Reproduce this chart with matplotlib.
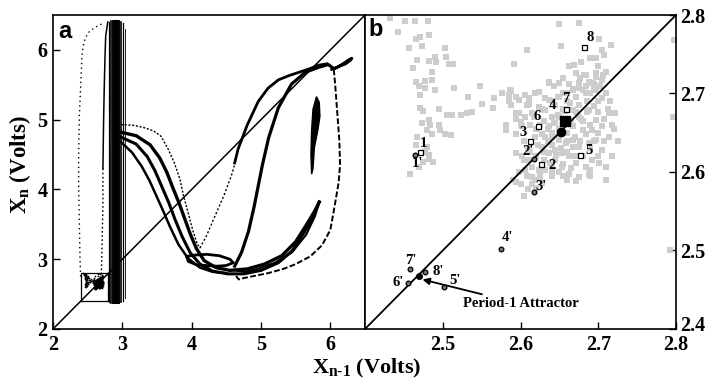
import matplotlib
matplotlib.use("Agg")
import matplotlib.pyplot as plt
from matplotlib.transforms import ScaledTranslation

plt.rcParams['font.family'] = ['Liberation Serif', 'DejaVu Serif']
plt.rcParams['font.weight'] = 'bold'
plt.rcParams['mathtext.fontset'] = 'custom'
plt.rcParams['mathtext.rm'] = 'Liberation Serif:bold'
plt.rcParams['mathtext.bf'] = 'Liberation Serif:bold'
plt.rcParams['mathtext.it'] = 'Liberation Serif:bold'

# ---- panel a: return map traces (volts) ----
left_strand_x = [2.70, 2.60, 2.50, 2.45, 2.42, 2.40, 2.38, 2.37, 2.37, 2.38, 2.39, 2.40]
left_strand_y = [6.37, 6.32, 6.24, 6.12, 5.95, 5.50, 5.05, 4.50, 4.04, 3.50, 3.00, 2.70]

thin_upper_x = [2.79, 2.76, 2.75, 2.74, 2.73, 2.72]
thin_upper_y = [6.40, 6.20, 5.90, 5.50, 5.00, 4.30]
thin_lower_x = [2.72, 2.72, 2.71, 2.70, 2.69]
thin_lower_y = [4.30, 3.80, 3.30, 2.90, 2.62]

band_x = [2.81, 2.84, 2.87, 2.90, 2.93, 2.95, 2.98, 3.01, 3.04]
band_lw = [0.9, 1.2, 1.4, 1.5, 1.5, 1.4, 1.2, 0.9, 0.6]
band_top = [6.40, 6.42, 6.42, 6.42, 6.42, 6.42, 6.40, 6.38, 6.30]
band_bottom = [2.38, 2.37, 2.37, 2.37, 2.37, 2.37, 2.38, 2.40, 2.45]

desc_outer_x = [2.98, 3.15, 3.30, 3.45, 3.56, 3.66, 3.75, 3.83, 3.88, 3.95, 4.02, 4.08, 4.12]
desc_outer_y = [4.93, 4.92, 4.89, 4.84, 4.76, 4.58, 4.38, 4.15, 3.92, 3.66, 3.40, 3.22, 3.16]

v_arm_x = [4.12, 4.22, 4.35, 4.48, 4.58, 4.66]
v_arm_y = [3.16, 3.35, 3.65, 3.95, 4.22, 4.50]

arc1_x = [4.62, 4.67, 4.80, 4.96, 5.10, 5.25, 5.40, 5.55, 5.70, 5.83, 5.95]
arc1_y = [4.38, 4.58, 4.92, 5.26, 5.45, 5.57, 5.63, 5.68, 5.73, 5.78, 5.80]

d2_x = [2.98, 3.20, 3.40, 3.54, 3.64, 3.73, 3.82, 3.90, 3.98, 4.07, 4.18, 4.35, 4.55, 4.80, 5.05, 5.30, 5.50, 5.66, 5.78, 5.84]
d2_y = [4.82, 4.77, 4.64, 4.45, 4.25, 4.02, 3.80, 3.58, 3.36, 3.15, 2.98, 2.88, 2.84, 2.86, 2.93, 3.05, 3.25, 3.50, 3.70, 3.82]
d3_x = [2.98, 3.20, 3.36, 3.47, 3.57, 3.67, 3.76, 3.86, 3.98, 4.12, 4.30, 4.52, 4.75, 5.00, 5.25, 5.45, 5.62, 5.75, 5.84]
d3_y = [4.75, 4.65, 4.47, 4.27, 4.04, 3.81, 3.57, 3.33, 3.09, 2.93, 2.83, 2.79, 2.79, 2.84, 2.95, 3.12, 3.38, 3.60, 3.82]
d4_x = [2.98, 3.14, 3.28, 3.39, 3.49, 3.59, 3.69, 3.81, 3.95, 4.12, 4.30, 4.50]
d4_y = [4.68, 4.53, 4.33, 4.13, 3.91, 3.69, 3.46, 3.21, 3.01, 2.88, 2.82, 2.80]

spike_x = [5.84, 5.78, 5.65, 5.45, 5.20, 4.95, 4.75, 4.62]
spike_y = [3.82, 3.62, 3.35, 3.10, 2.95, 2.86, 2.82, 2.84]

oval_x = [3.93, 4.05, 4.22, 4.40, 4.55, 4.60, 4.50, 4.36, 4.20, 4.07, 3.95, 3.93]
oval_y = [3.04, 3.06, 3.07, 3.05, 3.00, 2.95, 2.91, 2.90, 2.91, 2.92, 2.97, 3.04]

arc2_x = [4.62, 4.72, 4.82, 4.90, 4.96, 5.02, 5.11, 5.25, 5.44, 5.64, 5.83, 5.97, 6.04]
arc2_y = [2.90, 3.10, 3.40, 3.75, 4.05, 4.35, 4.74, 5.17, 5.51, 5.68, 5.75, 5.79, 5.74]

right_side_x = [6.05, 6.07, 6.10, 6.13, 6.14, 6.12, 6.06, 6.00, 5.88, 5.71, 5.50, 5.32, 5.10, 4.90, 4.75, 4.68, 4.64]
right_side_y = [5.72, 5.50, 5.10, 4.70, 4.35, 4.10, 3.75, 3.42, 3.20, 3.04, 2.93, 2.86, 2.80, 2.76, 2.73, 2.71, 2.76]

hook_x = [6.02, 6.12, 6.22, 6.29, 6.31, 6.27, 6.18, 6.08]
hook_y = [5.72, 5.76, 5.80, 5.85, 5.88, 5.86, 5.80, 5.74]

blob_x = [5.80, 5.84, 5.85, 5.82, 5.77, 5.75, 5.73, 5.72, 5.73, 5.75, 5.80]
blob_y = [5.33, 5.25, 5.05, 4.85, 4.60, 4.30, 4.22, 4.50, 4.85, 5.15, 5.33]

# ---- panel b: magnified section (volts) ----
gray_x = [
    2.432, 2.452, 2.464, 2.481, 2.443, 2.465, 2.471, 2.482, 2.456, 2.473, 2.503,
    2.467, 2.482, 2.490, 2.491, 2.504, 2.508, 2.513, 2.462, 2.486, 2.465, 2.477,
    2.486, 2.469, 2.477, 2.490, 2.514, 2.471, 2.533, 2.548, 2.551, 2.566, 2.576,
    2.585, 2.588, 2.565, 2.588, 2.471, 2.474, 2.495, 2.505, 2.512, 2.523, 2.531,
    2.538, 2.473, 2.482, 2.484, 2.480, 2.495, 2.497, 2.503, 2.510, 2.486, 2.591,
    2.581, 2.581, 2.594, 2.600, 2.467, 2.465, 2.477, 2.482, 2.488, 2.475, 2.469,
    2.482, 2.480, 2.458,
    2.671, 2.684, 2.697, 2.710, 2.675, 2.692, 2.705, 2.667, 2.684, 2.697, 2.637,
    2.643, 2.576, 2.587, 2.594, 2.606, 2.619, 2.632, 2.611, 2.624, 2.637, 2.649,
    2.594, 2.606, 2.615, 2.632, 2.641, 2.645, 2.637, 2.667, 2.675, 2.688, 2.697,
    2.667, 2.680, 2.692, 2.705, 2.714, 2.632, 2.641, 2.649, 2.658, 2.667, 2.675,
    2.688, 2.697, 2.705, 2.714, 2.594, 2.602, 2.619, 2.628, 2.637, 2.645, 2.654,
    2.662, 2.671, 2.684, 2.692, 2.701, 2.710, 2.718, 2.606, 2.615, 2.624, 2.632,
    2.641, 2.654, 2.662, 2.675, 2.688, 2.594, 2.602, 2.611, 2.619, 2.628, 2.615,
    2.625, 2.630, 2.650, 2.655, 2.660, 2.645, 2.620, 2.630, 2.640, 2.650, 2.660,
    2.665, 2.670, 2.680, 2.680, 2.690, 2.655, 2.645, 2.660, 2.670, 2.610, 2.605,
    2.620, 2.640, 2.650, 2.635, 2.675, 2.685, 2.690, 2.700, 2.660, 2.672, 2.655,
    2.662, 2.678, 2.690, 2.700, 2.705, 2.695, 2.680, 2.663, 2.710, 2.715, 2.720,
    2.725, 2.700, 2.690, 2.710, 2.655, 2.665, 2.640,
    2.649, 2.675, 2.609, 2.652, 2.701, 2.716, 2.697, 2.707, 2.669, 2.671, 2.682,
    2.697, 2.706, 2.637, 2.649, 2.675, 2.684, 2.695, 2.705, 2.624, 2.611, 2.598,
    2.600, 2.610, 2.620, 2.605, 2.590, 2.625, 2.660, 2.672, 2.594, 2.690,
    2.797, 2.796, 2.792,
]
gray_y = [
    2.796, 2.792, 2.792, 2.792, 2.778, 2.770, 2.772, 2.774, 2.758, 2.760, 2.758,
    2.743, 2.741, 2.746, 2.740, 2.746, 2.737, 2.738, 2.732, 2.727, 2.715, 2.716,
    2.717, 2.709, 2.707, 2.704, 2.707, 2.698, 2.696, 2.710, 2.687, 2.694, 2.701,
    2.698, 2.703, 2.682, 2.685, 2.682, 2.678, 2.680, 2.673, 2.673, 2.673, 2.675,
    2.677, 2.662, 2.666, 2.660, 2.654, 2.660, 2.654, 2.649, 2.647, 2.649, 2.738,
    2.660, 2.654, 2.668, 2.664, 2.645, 2.634, 2.626, 2.622, 2.613, 2.613, 2.607,
    2.617, 2.632, 2.598,
    2.726, 2.724, 2.726, 2.728, 2.713, 2.713, 2.717, 2.704, 2.700, 2.704, 2.713,
    2.709, 2.700, 2.704, 2.696, 2.698, 2.700, 2.694, 2.687, 2.683, 2.692, 2.696,
    2.675, 2.670, 2.675, 2.679, 2.670, 2.662, 2.658, 2.679, 2.670, 2.679, 2.666,
    2.658, 2.653, 2.653, 2.658, 2.675, 2.645, 2.645, 2.641, 2.637, 2.641, 2.632,
    2.637, 2.641, 2.628, 2.645, 2.649, 2.658, 2.645, 2.632, 2.624, 2.628, 2.624,
    2.620, 2.611, 2.607, 2.615, 2.611, 2.607, 2.620, 2.603, 2.607, 2.603, 2.603,
    2.598, 2.607, 2.598, 2.594, 2.598, 2.624, 2.620, 2.615, 2.590, 2.586, 2.594,
    2.660, 2.665, 2.670, 2.680, 2.690, 2.685, 2.620, 2.625, 2.635, 2.645, 2.650,
    2.665, 2.645, 2.665, 2.620, 2.630, 2.610, 2.615, 2.625, 2.620, 2.630, 2.640,
    2.655, 2.650, 2.655, 2.640, 2.685, 2.690, 2.700, 2.690, 2.700, 2.695, 2.720,
    2.735, 2.740, 2.745, 2.735, 2.755, 2.712, 2.705, 2.712, 2.700, 2.690, 2.655,
    2.640, 2.620, 2.595, 2.590, 2.595, 2.605, 2.605,
    2.789, 2.790, 2.756, 2.760, 2.769, 2.762, 2.745, 2.749, 2.736, 2.726, 2.724,
    2.721, 2.724, 2.715, 2.713, 2.707, 2.709, 2.704, 2.694, 2.702, 2.694, 2.692,
    2.585, 2.578, 2.580, 2.570, 2.590, 2.592, 2.590, 2.588, 2.587, 2.602,
    2.768, 2.670, 2.500,
]
# extra points in the crowded part of the cloud along the diagonal
dense_x = [
    2.605, 2.612, 2.622, 2.628, 2.636, 2.643, 2.648, 2.657, 2.664, 2.672, 2.678,
    2.686, 2.694, 2.700, 2.708, 2.712, 2.690, 2.684, 2.676, 2.668, 2.660, 2.652,
    2.646, 2.638, 2.630, 2.625, 2.615, 2.608, 2.598, 2.640, 2.650, 2.700, 2.695,
    2.708, 2.718, 2.722, 2.702, 2.688, 2.676, 2.668, 2.655, 2.648, 2.640, 2.628,
    2.618, 2.612, 2.600, 2.598, 2.608, 2.585,
]
dense_y = [
    2.615, 2.625, 2.635, 2.648, 2.655, 2.662, 2.672, 2.678, 2.688, 2.676, 2.668,
    2.676, 2.684, 2.676, 2.668, 2.680, 2.660, 2.648, 2.640, 2.632, 2.640, 2.630,
    2.622, 2.612, 2.615, 2.600, 2.585, 2.595, 2.600, 2.595, 2.600, 2.650, 2.640,
    2.640, 2.660, 2.675, 2.710, 2.715, 2.720, 2.706, 2.700, 2.695, 2.690, 2.680,
    2.670, 2.660, 2.660, 2.675, 2.685, 2.690,
]
cloud_x = gray_x + dense_x
cloud_y = gray_y + dense_y

square_labels = ['1', '2', '3', '5', '6', '7', '8']
square_x = [2.471, 2.626, 2.612, 2.676, 2.623, 2.659, 2.682]
square_y = [2.626, 2.610, 2.640, 2.622, 2.658, 2.680, 2.759]

circle_labels = ["1'", "2'", "3'", "4'", "5'", "6'", "7'", "8'"]
circle_x = [2.464, 2.618, 2.617, 2.575, 2.502, 2.455, 2.458, 2.477]
circle_y = [2.622, 2.617, 2.574, 2.502, 2.453, 2.459, 2.476, 2.472]

label_names = ['1', "1'", "2'", '2', '3', '4', '5', '6', '7', '8', "3'", "4'", "7'", "8'", "6'", "5'"]
label_x = [2.475, 2.467, 2.610, 2.641, 2.603, 2.641, 2.688, 2.621, 2.658, 2.689, 2.626, 2.583, 2.459, 2.494, 2.443, 2.516]
label_y = [2.636, 2.611, 2.626, 2.608, 2.650, 2.685, 2.628, 2.671, 2.694, 2.771, 2.582, 2.516, 2.487, 2.473, 2.459, 2.462]

fixed_square = (2.657, 2.665)
fixed_circle = (2.652, 2.651)
period1 = (2.470, 2.468)

fig = plt.figure(figsize=(7.11, 3.83), dpi=100)
ax_a = fig.add_axes([53 / 711, 54 / 383, 312 / 711, 314 / 383])
ax_b = fig.add_axes([365 / 711, 54 / 383, 311 / 711, 314 / 383])

# panel a
ax_a.plot([2, 6.5], [2, 6.5], color='black', lw=1.1)
ax_a.plot(left_strand_x, left_strand_y, color='black', lw=1.0, ls=(0, (1.0, 2.4)))
ax_a.plot(thin_upper_x, thin_upper_y, color='black', lw=1.1)
ax_a.plot(thin_lower_x, thin_lower_y, color='black', lw=1.0, ls=(0, (1.2, 1.8)))
for bx, lw, yt, yb in zip(band_x, band_lw, band_top, band_bottom):
    ax_a.plot([bx, bx], [yb, yt], color='black', lw=lw)
ax_a.plot(desc_outer_x, desc_outer_y, color='black', lw=1.0, ls=(0, (1.5, 1.2)))
ax_a.plot(v_arm_x, v_arm_y, color='black', lw=1.0, ls=(0, (1.5, 1.5)))
ax_a.plot(arc1_x, arc1_y, color='black', lw=2.0)
ax_a.plot(d2_x, d2_y, color='black', lw=2.4)
ax_a.plot(d3_x, d3_y, color='black', lw=2.2)
ax_a.plot(d4_x, d4_y, color='black', lw=1.8)
ax_a.plot(spike_x, spike_y, color='black', lw=1.5)
ax_a.plot(oval_x, oval_y, color='black', lw=2.0)
ax_a.plot(arc2_x, arc2_y, color='black', lw=2.3)
ax_a.plot(right_side_x, right_side_y, color='black', lw=1.4, ls=(0, (3, 1.2)))
ax_a.plot(hook_x, hook_y, color='black', lw=2.0)
ax_a.fill(blob_x, blob_y, color='black', lw=1.0)
ax_a.plot([2.4, 2.8, 2.8, 2.4, 2.4], [2.4, 2.4, 2.8, 2.8, 2.4], color='black', lw=0.9)
ax_a.scatter(cloud_x, cloud_y, s=1.5, color='black', lw=0)

ax_a.set_xlim(2, 6.5)
ax_a.set_ylim(2, 6.5)
ax_a.set_xticks([2, 3, 4, 5, 6])
ax_a.set_yticks([2, 3, 4, 5, 6])
ax_a.tick_params(direction='in', length=5, width=1.0, labelsize=14.5, pad=4)
ax_a.text(0.016, 0.985, 'a', transform=ax_a.transAxes, ha='left', va='top',
          fontsize=17, family='Liberation Sans', fontweight='bold')

# panel b: gray cloud first, diagonal and labelled points on top
ax_b.scatter(cloud_x, cloud_y, s=15, marker='s', color='#cdcdcd', lw=0, zorder=2)
ax_b.plot([2.4, 2.8], [2.4, 2.8], color='black', lw=1.3, zorder=3)
ax_b.plot(square_x, square_y, ls='none', marker='s', ms=3.6, mfc='white', mec='black', mew=0.9, zorder=4)
ax_b.plot(circle_x, circle_y, ls='none', marker='o', ms=3.4, mfc='#777777', mec='black', mew=0.9, zorder=4)
ax_b.plot(*fixed_square, ls='none', marker='s', ms=6.5, color='black', zorder=5)
ax_b.plot(*fixed_circle, ls='none', marker='o', ms=6, color='black', zorder=5)
ax_b.plot(*period1, ls='none', marker='o', ms=4, color='black', zorder=5)
for name, tx, ty in zip(label_names, label_x, label_y):
    ax_b.text(tx, ty, name, fontsize=10.5, ha='center', va='center', zorder=6)
ax_b.annotate('Period-1 Attractor', xy=(2.474, 2.463), xytext=(2.526, 2.432),
              fontsize=10.5, ha='left', va='center',
              arrowprops=dict(arrowstyle='-|>', color='black', lw=1.3, shrinkA=1, shrinkB=0,
                              mutation_scale=10))

ax_b.set_xlim(2.4, 2.8)
ax_b.set_ylim(2.4, 2.8)
ax_b.set_xticks([2.5, 2.6, 2.7, 2.8])
ax_b.set_yticks([2.4, 2.5, 2.6, 2.7, 2.8])
ax_b.yaxis.tick_right()
ax_b.tick_params(direction='in', length=5, width=1.0, labelsize=14.5, pad=4)
ax_b.tick_params(axis='y', pad=3)
ax_b.text(0.012, 0.99, 'b', transform=ax_b.transAxes, ha='left', va='top',
          fontsize=17, family='Liberation Sans', fontweight='bold')

# lift the bottom right-hand label clear of the 2.8 below it
fig.canvas.draw()
low_label = ax_b.get_yticklabels()[0]
low_label.set_transform(low_label.get_transform() + ScaledTranslation(0, 4 / 72, fig.dpi_scale_trans))

for ax in (ax_a, ax_b):
    for sp in ax.spines.values():
        sp.set_linewidth(1.2)

fig.text(20 / 711, 1 - 165 / 383, r'$\mathbf{X_n}$ (Volts)', rotation=90,
         ha='center', va='center', fontsize=16.5)
fig.text(367 / 711, 1 - 368 / 383, r'$\mathbf{X_{n\text{-}1}}$ (Volts)',
         ha='center', va='center', fontsize=16)

fig.savefig('out.png', dpi=100)
